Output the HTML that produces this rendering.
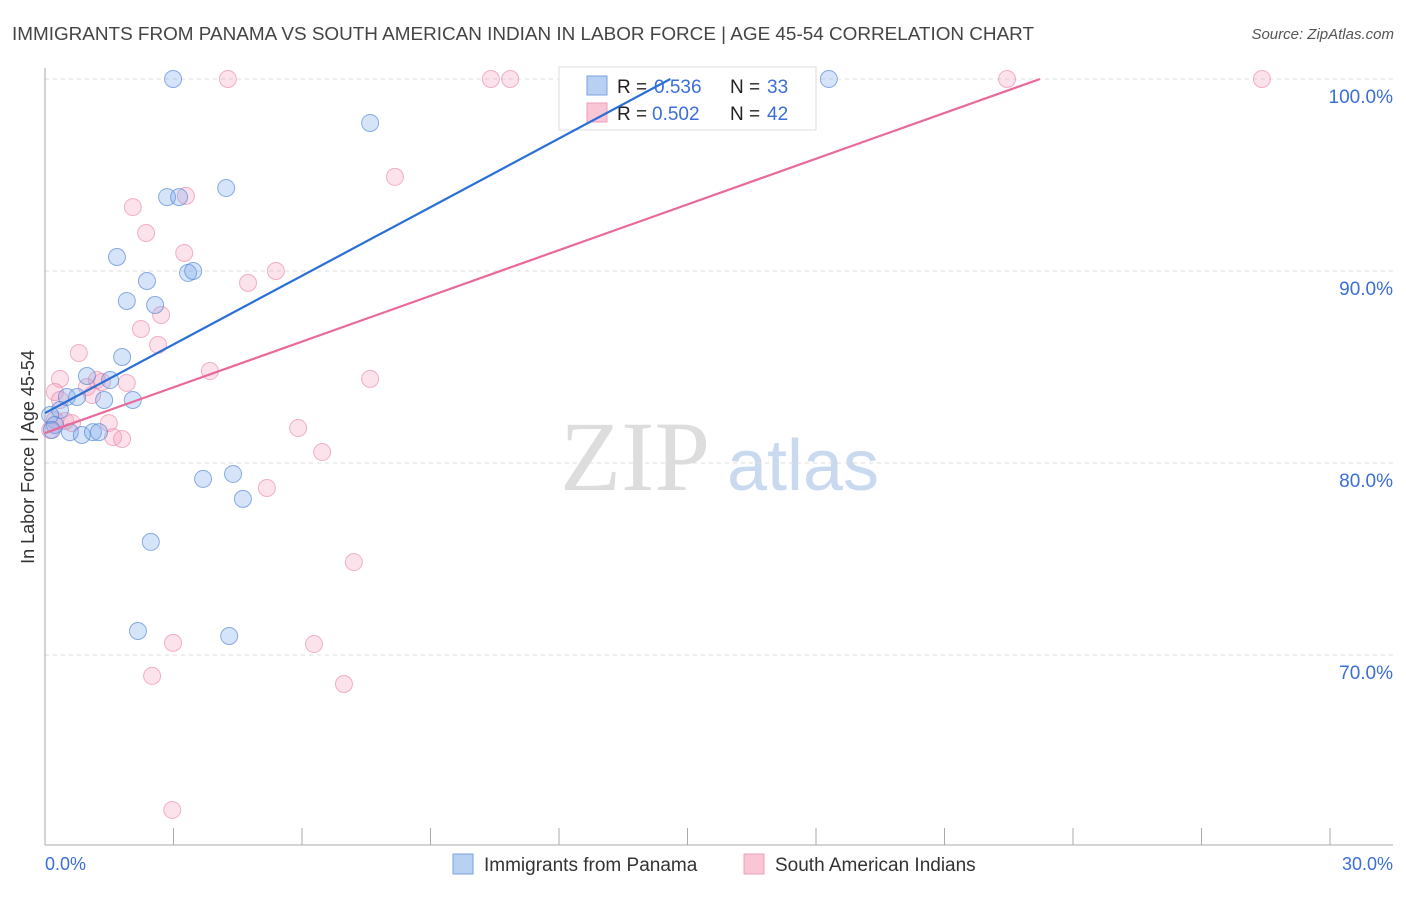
<!DOCTYPE html>
<html><head><meta charset="utf-8">
<style>
body{margin:0;background:#fff;font-family:"Liberation Sans",sans-serif;}
</style></head>
<body>
<svg id="chart" width="1406" height="892" viewBox="0 0 1406 892" xmlns="http://www.w3.org/2000/svg" font-family="Liberation Sans, sans-serif">
<text x="12" y="40" font-size="18.9" fill="#444">IMMIGRANTS FROM PANAMA VS SOUTH AMERICAN INDIAN IN LABOR FORCE | AGE 45-54 CORRELATION CHART</text>
<text x="1394" y="39" font-size="15" fill="#555" text-anchor="end" font-style="italic">Source: ZipAtlas.com</text>
<g>
<text x="635" y="490" font-size="100" fill="#ddd" text-anchor="middle" style="font-family:'Liberation Serif',serif">ZIP</text>
<text x="803" y="490" font-size="72" fill="#c9d9f0" text-anchor="middle">atlas</text>
</g>
<g id="grid"></g>
<g id="axes"></g>
<g>
<rect x="559" y="67" width="257" height="63" fill="#fff" stroke="#ddd"/>
<rect x="587" y="76" width="20" height="19" fill="#b8d1f3" stroke="#7aa0e0"/>
<rect x="587" y="103" width="20" height="19" fill="#f8c6d4" stroke="#eea0b8"/>
<text x="617" y="93" font-size="19" fill="#222">R =</text>
<text x="654" y="93" font-size="19" fill="#3a6fd8">0.536</text>
<text x="730" y="93" font-size="19" fill="#222">N =</text>
<text x="767" y="93" font-size="19" fill="#3a6fd8">33</text>
<text x="617" y="120" font-size="19" fill="#222">R =</text>
<text x="652" y="120" font-size="19" fill="#3a6fd8">0.502</text>
<text x="730" y="120" font-size="19" fill="#222">N =</text>
<text x="767" y="120" font-size="19" fill="#3a6fd8">42</text>
</g>
<g id="marks"></g>
<g id="lines"></g>
<g>
<rect x="453" y="854" width="20" height="20" fill="#b8d1f3" stroke="#7aa0e0"/>
<text x="484" y="871" font-size="19" fill="#333">Immigrants from Panama</text>
<rect x="744" y="854" width="20" height="20" fill="#f8c6d4" stroke="#eea0b8"/>
<text x="775" y="871" font-size="19" fill="#333">South American Indians</text>
</g>
<text transform="translate(34,457) rotate(-90)" font-size="18" fill="#333" text-anchor="middle">In Labor Force | Age 45-54</text>
<text x="45" y="870" font-size="18" fill="#3a6fd8">0.0%</text>
<text x="1393" y="870" font-size="18" fill="#3a6fd8" text-anchor="end">30.0%</text>
</svg>
<script>
const yTicks=[100,90,80,70];
const yTickLabels=["100.0%","90.0%","80.0%","70.0%"];
const xTickVals=[0,3,6,9,12,15,18,21,24,27,30];
const blueX=[2.99,18.30,7.59,4.23,2.85,3.13,1.68,2.38,3.34,3.46,1.91,2.57,1.80,0.98,1.52,0.51,0.75,1.38,2.05,0.35,0.12,0.23,0.58,0.86,1.12,1.26,0.16,3.69,4.39,4.62,2.47,2.17,4.30];
const blueY=[100,100,97.71,94.32,93.85,93.85,90.73,89.48,89.90,90.0,88.44,88.23,85.52,84.53,84.32,83.44,83.44,83.28,83.28,82.76,82.50,81.98,81.61,81.46,81.61,81.61,81.72,79.17,79.43,78.13,75.89,71.25,70.99];
const pinkX=[4.27,10.41,10.86,22.46,28.41,8.17,2.05,3.29,2.36,3.25,5.39,4.74,2.24,2.71,2.64,0.79,3.85,7.59,0.35,1.21,1.33,1.91,0.98,1.10,0.23,0.47,0.63,1.49,1.59,1.80,5.91,6.47,5.18,7.21,2.99,6.28,2.50,6.98,2.97,0.23,0.12,0.35];
const pinkY=[100,100,100,100,100,94.90,93.33,93.91,91.98,90.94,90.0,89.38,86.98,87.71,86.15,85.73,84.79,84.38,84.38,84.32,84.22,84.17,83.96,83.54,83.70,82.19,82.08,82.08,81.35,81.25,81.82,80.57,78.70,74.84,70.63,70.57,68.91,68.49,61.93,82.24,81.72,83.28];
const blueLine=[[0,82.6],[14.6,100]];
const pinkLine=[[0,81.56],[23.23,100]];

const NS="http://www.w3.org/2000/svg";
const X=v=>45+v*1285/30;
const Y=v=>79+(100-v)*19.2;
function mk(tag,attrs,parent){const e=document.createElementNS(NS,tag);for(const k in attrs)e.setAttribute(k,attrs[k]);document.getElementById(parent).appendChild(e);return e;}
yTicks.forEach((t,i)=>{
  const l=mk('line',{x1:45,x2:1393,y1:Y(t),y2:Y(t),stroke:'#ddd','stroke-dasharray':'4,4'},'grid');
  
  
  const tx=mk('text',{x:1393,y:Y(t)+24,'font-size':19,fill:'#3a6fd8','text-anchor':'end'},'grid');
  tx.textContent=yTickLabels[i];
  
  
});
let ax=mk('line',{x1:45,x2:45,y1:68,y2:845,stroke:'#aaa'},'axes');


ax=mk('line',{x1:45,x2:1393,y1:845,y2:845,stroke:'#aaa'},'axes');


xTickVals.forEach(v=>{
  const t=mk('line',{x1:X(v),x2:X(v),y1:828,y2:845,stroke:'#aaa'},'axes');
  
  
});
function pts(xs,ys,fill,stroke,name){
  xs.forEach((x,i)=>{
    const c=mk('circle',{cx:X(x),cy:Y(ys[i]),r:8.5,fill:fill,stroke:stroke,'stroke-width':1},'marks');
    
    
  });
}
pts(pinkX,pinkY,'rgba(244,160,188,0.3)','rgba(234,130,165,0.6)','point-sa-indian');
pts(blueX,blueY,'rgba(120,165,235,0.3)','rgba(80,130,215,0.65)','point-panama');
let ln=mk('line',{x1:X(blueLine[0][0]),y1:Y(blueLine[0][1]),x2:X(blueLine[1][0]),y2:Y(blueLine[1][1]),stroke:'#2a6fd6','stroke-width':2.2},'lines');


ln=mk('line',{x1:X(pinkLine[0][0]),y1:Y(pinkLine[0][1]),x2:X(pinkLine[1][0]),y2:Y(pinkLine[1][1]),stroke:'#e8699a','stroke-width':2.2},'lines');


</script>
</body></html>
